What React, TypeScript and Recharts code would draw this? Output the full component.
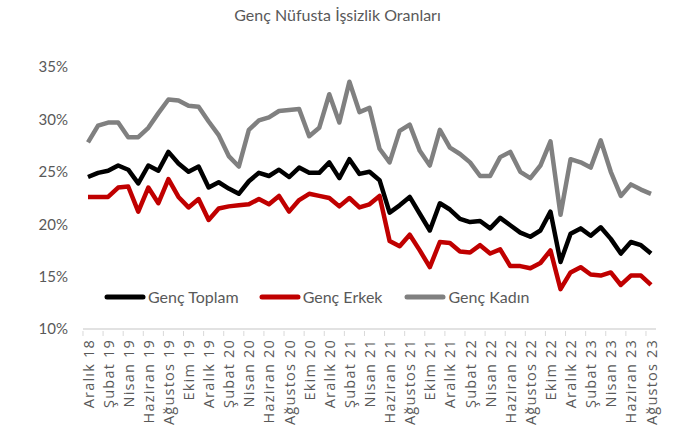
import React from "react";
import { LineChart, Line, XAxis, YAxis } from "recharts";

const months = [
	"Aralık 18", "Ocak 19", "Şubat 19", "Mart 19", "Nisan 19", "Mayıs 19", "Haziran 19", "Temmuz 19",
	"Ağustos 19", "Eylül 19", "Ekim 19", "Kasım 19", "Aralık 19", "Ocak 20", "Şubat 20", "Mart 20",
	"Nisan 20", "Mayıs 20", "Haziran 20", "Temmuz 20", "Ağustos 20", "Eylül 20", "Ekim 20", "Kasım 20",
	"Aralık 20", "Ocak 21", "Şubat 21", "Mart 21", "Nisan 21", "Mayıs 21", "Haziran 21", "Temmuz 21",
	"Ağustos 21", "Eylül 21", "Ekim 21", "Kasım 21", "Aralık 21", "Ocak 22", "Şubat 22", "Mart 22",
	"Nisan 22", "Mayıs 22", "Haziran 22", "Temmuz 22", "Ağustos 22", "Eylül 22", "Ekim 22", "Kasım 22",
	"Aralık 22", "Ocak 23", "Şubat 23", "Mart 23", "Nisan 23", "Mayıs 23", "Haziran 23", "Temmuz 23",
	"Ağustos 23",
];

const gencToplam = [
	24.5, 24.9, 25.1, 25.6, 25.2, 23.9, 25.6, 25.1, 26.9, 25.8, 25.0, 25.5, 23.5, 24.0, 23.4, 22.9,
	24.1, 24.9, 24.6, 25.2, 24.5, 25.4, 24.9, 24.9, 25.9, 24.4, 26.2, 24.8, 25.0, 24.2, 21.1, 21.8,
	22.6, 21.0, 19.4, 22.0, 21.4, 20.5, 20.2, 20.3, 19.6, 20.6, 19.9, 19.2, 18.8, 19.4, 21.2, 16.4,
	19.1, 19.6, 18.9, 19.7, 18.6, 17.2, 18.3, 18.0, 17.2,
];

const gencErkek = [
	22.6, 22.6, 22.6, 23.5, 23.6, 21.2, 23.5, 22.0, 24.3, 22.6, 21.6, 22.4, 20.4, 21.5, 21.7, 21.8,
	21.9, 22.4, 21.9, 22.7, 21.2, 22.3, 22.9, 22.7, 22.5, 21.7, 22.5, 21.6, 21.9, 22.7, 18.4, 17.9,
	19.0, 17.5, 15.9, 18.3, 18.2, 17.4, 17.3, 18.0, 17.2, 17.6, 16.0, 16.0, 15.8, 16.3, 17.5, 13.8,
	15.4, 15.9, 15.2, 15.1, 15.4, 14.2, 15.1, 15.1, 14.2,
];

const gencKadin = [
	27.8, 29.4, 29.7, 29.7, 28.3, 28.3, 29.2, 30.6, 31.9, 31.8, 31.3, 31.2, 29.8, 28.5, 26.5, 25.5,
	29.0, 29.9, 30.2, 30.8, 30.9, 31.0, 28.4, 29.2, 32.4, 29.7, 33.6, 30.7, 31.1, 27.2, 25.9, 28.9,
	29.5, 27.0, 25.6, 29.0, 27.3, 26.7, 25.9, 24.6, 24.6, 26.4, 26.9, 25.0, 24.4, 25.6, 27.9, 20.9,
	26.2, 25.9, 25.4, 28.0, 25.0, 22.7, 23.8, 23.3, 22.9,
];

const yTicks = [10, 15, 20, 25, 30, 35];

const series = [
	{ key: "toplam", name: "Genç Toplam", color: "#000000" },
	{ key: "erkek", name: "Genç Erkek", color: "#c00000" },
	{ key: "kadin", name: "Genç Kadın", color: "#808080" },
];

const data = months.map((m, i) => ({
	month: m,
	toplam: gencToplam[i],
	erkek: gencErkek[i],
	kadin: gencKadin[i],
}));

const FONT = "Lato, 'Open Sans', sans-serif";
const TEXT = "#595959";

const MonthTick = (props: any) => {
	const { x, y, payload } = props;
	const half = 5.03;
	return (
		<g>
			<line x1={x - half} x2={x - half} y1={y - 8} y2={y - 3} stroke="#d9d9d9" strokeWidth={1} />
			<text
				x={x}
				y={y}
				transform={`rotate(-90, ${x}, ${y})`}
				textAnchor="end"
				dominantBaseline="central"
				fill={TEXT}
				fontSize={14.5}
				letterSpacing={1.2}
				fontFamily="'Open Sans', sans-serif">
				{payload.value}
			</text>
		</g>
	);
};

export default function App() {
	return (
		<div style={{ position: "absolute", left: 0, top: 0, width: 675, height: 432, background: "#fff" }}>
			<div
				style={{
					position: "absolute",
					top: 5,
					width: 675,
					textAlign: "center",
					fontFamily: FONT,
					fontSize: 16,
					color: TEXT,
				}}>
				Genç Nüfusta İşsizlik Oranları
			</div>
			<LineChart width={675} height={432} data={data} margin={{ top: 67, right: 19, left: 0, bottom: 3 }}>
				<XAxis
					dataKey="month"
					interval={1}
					height={100}
					padding={{ left: 5, right: 5 }}
					axisLine={{ stroke: "#d9d9d9", strokeWidth: 1.5 }}
					tickLine={false}
					tickSize={8}
					tickMargin={2}
					tick={<MonthTick />}
				/>
				<YAxis
					domain={[10, 35]}
					ticks={yTicks}
					width={83}
					axisLine={false}
					tickLine={false}
					tickMargin={9}
					tickFormatter={(v) => `${v}%`}
					tick={{ fill: TEXT, fontSize: 15, fontFamily: FONT }}
				/>
				{series.map((s) => (
					<Line
						key={s.key}
						type="linear"
						dataKey={s.key}
						name={s.name}
						stroke={s.color}
						strokeWidth={4.5}
						strokeLinejoin="round"
						dot={false}
						isAnimationActive={false}
					/>
				))}
			</LineChart>
			<div
				style={{
					position: "absolute",
					top: 287,
					left: 104,
					display: "flex",
					alignItems: "center",
					fontFamily: FONT,
					fontSize: 16,
					color: TEXT,
				}}>
				{series.map((s, i) => (
					<div key={s.key} style={{ display: "flex", alignItems: "center", marginRight: i === 0 ? 20 : 22 }}>
						<svg width={42} height={8}>
							<line x1={3} x2={39} y1={4} y2={4} stroke={s.color} strokeWidth={5} strokeLinecap="round" />
						</svg>
						<span style={{ marginLeft: 2 }}>{s.name}</span>
					</div>
				))}
			</div>
		</div>
	);
}
